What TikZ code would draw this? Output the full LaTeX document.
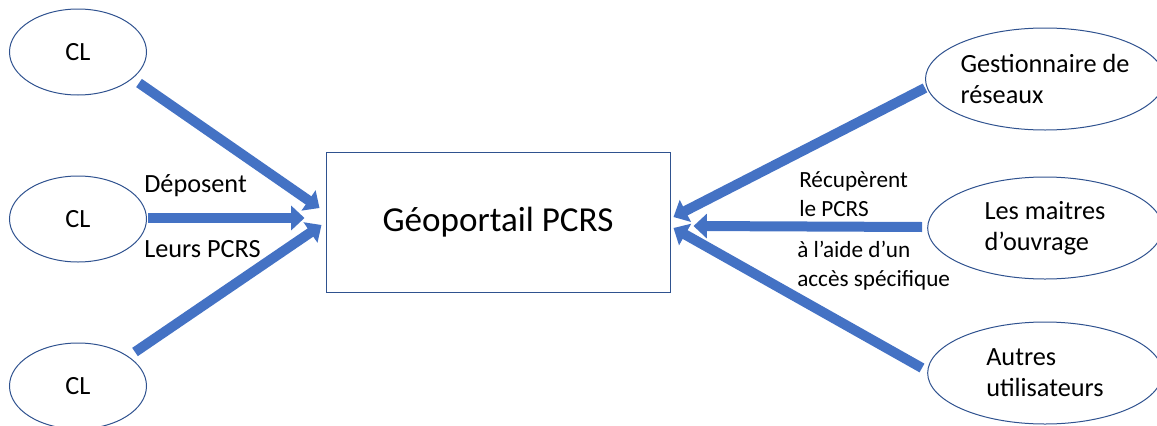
\documentclass[tikz,border=0pt]{standalone}
\usepackage{fontspec}
\setmainfont{Carlito}
\usepackage{xcolor}
\usepackage{tikz}
\usetikzlibrary{arrows.meta,shapes.geometric}
\definecolor{flowblue}{HTML}{4472C4}
\definecolor{edgeblue}{HTML}{2F528F}

\begin{document}
\begin{tikzpicture}[
  x=0.75pt, y=-0.75pt,
  every node/.style={font=\fontsize{19.7}{23.3}\selectfont},
  actor/.style={draw=edgeblue, line width=0.75pt, ellipse, minimum width=102.75pt, minimum height=64.5pt, inner sep=0pt, align=left},
  user/.style={actor, minimum width=176pt, minimum height=76.5pt},
  portal/.style={draw=edgeblue, line width=0.75pt, minimum width=258pt, minimum height=105pt, font=\fontsize{26.3}{31}\selectfont},
  leftnote/.style={inner sep=0pt},
  rightnote/.style={font=\fontsize{17.4}{21.8}\selectfont, align=left, inner sep=0pt},
  flow/.style={draw=flowblue, line width=7.5pt, -{Triangle[width=18pt,length=10pt]}}
]
\useasboundingbox (0,0) rectangle (1157,425);

\node[actor] (clhaut) at (78,52) {CL};
\node[actor] (clmilieu) at (78,219) {CL};
\node[actor] (clbas) at (78,386) {CL};

\node[portal] (portail) at (498,222) {Géoportail PCRS};

\node[user] (gestion) at (1045,79) {Gestionnaire de\\réseaux};
\node[user] (maitres) at (1045,228) {Les maitres\\d’ouvrage};
\node[user] (autres) at (1045,373) {Autres\\utilisateurs};

\node[leftnote, anchor=base west] (depot) at (144,192) {Déposent};
\node[leftnote, anchor=base west] (leurs) at (144,257) {Leurs PCRS};
\node[rightnote, anchor=west] (recup) at (799,194) {Récupèrent\\le PCRS};
\node[rightnote, anchor=west] (acces) at (797,266) {à l’aide d’un\\accès spécifique};

\draw[flow] ([shift={(61,31)}]clhaut.center) -- ([shift={(-6,-14)}]portail.west);
\draw[flow] ([shift={(1,-1)}]clmilieu.east) -- ([shift={(-21,-4)}]portail.west);
\draw[flow] ([shift={(57,-34)}]clbas.center) -- ([shift={(-4,3)}]portail.west);
\draw[flow] ([shift={(-120,9)}]gestion.center) -- ([shift={(3,-5)}]portail.east);
\draw[flow] ([shift={(-5,-1)}]maitres.west) -- ([shift={(23,4)}]portail.east);
\draw[flow] ([shift={(-123,-5)}]autres.center) -- ([shift={(3,6)}]portail.east);
\end{tikzpicture}
\end{document}
